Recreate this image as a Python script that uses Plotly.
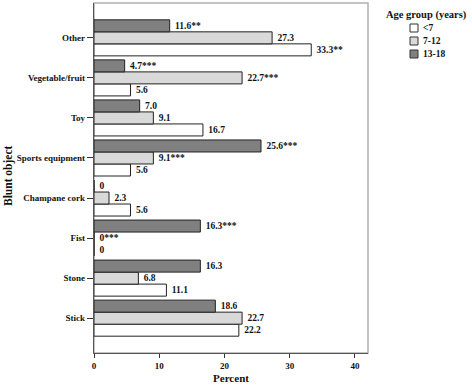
import plotly.graph_objects as go

categories = ["Other", "Vegetable/fruit", "Toy", "Sports equipment",
              "Champane cork", "Fist", "Stone", "Stick"]
groups = ["<7", "7-12", "13-18"]
vals_lt7 = [33.3, 5.6, 16.7, 5.6, 5.6, 0, 11.1, 22.2]
vals_7_12 = [27.3, 22.7, 9.1, 9.1, 2.3, 0, 6.8, 22.7]
vals_13_18 = [11.6, 4.7, 7.0, 25.6, 0, 16.3, 16.3, 18.6]
labels_lt7 = ["33.3**", "5.6", "16.7", "5.6", "5.6", "0", "11.1", "22.2"]
labels_7_12 = ["27.3", "22.7***", "9.1", "9.1***", "2.3", "0***", "6.8", "22.7"]
labels_13_18 = ["11.6**", "4.7***", "7.0", "25.6***", "0", "16.3***", "16.3", "18.6"]
x_ticks = [0, 10, 20, 30, 40]

colors = ["#ffffff", "#d9d9d9", "#808080"]
FONT = "Liberation Serif"
W, H = 472, 387
ML, MR, MT, MB = 94, 104, 3, 34

fig = go.Figure()
for name, vals, labs, col in zip(groups, [vals_lt7, vals_7_12, vals_13_18],
                                  [labels_lt7, labels_7_12, labels_13_18], colors):
    fig.add_trace(go.Bar(
        y=categories, x=vals, name=name, orientation="h",
        marker=dict(color=col, line=dict(color="#222222", width=1)),
        text=["\u00a0" + t for t in labs], textposition="outside", cliponaxis=False,
        textfont=dict(family=FONT, size=9.5, color="#111111", weight="bold"),
        showlegend=False,
    ))

# manual legend (compact spacing like the reference)
pw = W - ML - MR
ph = H - MT - MB
def px_x(x):
    return (x - ML) / pw
def px_y(y):
    return 1 - (y - MT) / ph

annotations = [dict(
    text="<b>Age group (years)</b>", xref="paper", yref="paper",
    x=px_x(384), y=px_y(15), xanchor="left", yanchor="middle", showarrow=False,
    font=dict(family=FONT, size=10.5, color="#111111"),
)]
shapes = []
for i, (name, col) in enumerate(zip(groups, colors)):
    yc = 28 + 13 * i
    shapes.append(dict(type="rect", xref="paper", yref="paper",
                       x0=px_x(410), x1=px_x(418), y0=px_y(yc + 4), y1=px_y(yc - 4),
                       fillcolor=col, line=dict(color="#333333", width=1)))
    annotations.append(dict(
        text="<b>%s</b>" % name, xref="paper", yref="paper",
        x=px_x(421), y=px_y(yc), xanchor="left", yanchor="middle", showarrow=False,
        font=dict(family=FONT, size=9.5, color="#111111"),
    ))

annotations.append(dict(
    text="<b>Blunt object</b>", textangle=-90, xref="paper", yref="paper",
    x=px_x(9), y=px_y(176), xanchor="center", yanchor="middle", showarrow=False,
    font=dict(family=FONT, size=11.5, color="#111111"),
))

# grey frame around the plot area
shapes.append(dict(type="rect", xref="paper", yref="paper", x0=0, x1=1, y0=0, y1=1,
                   line=dict(color="#b0b0b0", width=1.5), layer="below"))

fig.update_layout(
    width=W, height=H,
    margin=dict(l=ML, r=MR, t=MT, b=MB, autoexpand=False),
    barmode="group", bargap=0.1, bargroupgap=0,
    plot_bgcolor="white", paper_bgcolor="white",
    font=dict(family=FONT, size=10, color="#111111"),
    showlegend=False,
    xaxis=dict(
        range=[0, 42.0], tickvals=x_ticks, ticks="outside", ticklen=4,
        tickcolor="#333333", showgrid=False, zeroline=False,
        showline=True, linecolor="#555555", linewidth=1.2,
        tickfont=dict(family=FONT, size=9, weight="bold"),
        title=dict(text="<b>Percent</b>", font=dict(family=FONT, size=11, color="#111111"),
                   standoff=4),
    ),
    yaxis=dict(
        categoryorder="array", categoryarray=categories[::-1],
        range=[-0.87, 7.87],
        ticks="outside", ticklen=6, tickcolor="#333333",
        showgrid=False, zeroline=False,
        showline=True, linecolor="#555555", linewidth=1.2,
        tickfont=dict(family=FONT, size=9, weight="bold"),
    ),
    annotations=annotations,
    shapes=shapes,
)
fig.write_html("out.html", config={"displayModeBar": False},
               post_script="document.body.style.margin='0';")
